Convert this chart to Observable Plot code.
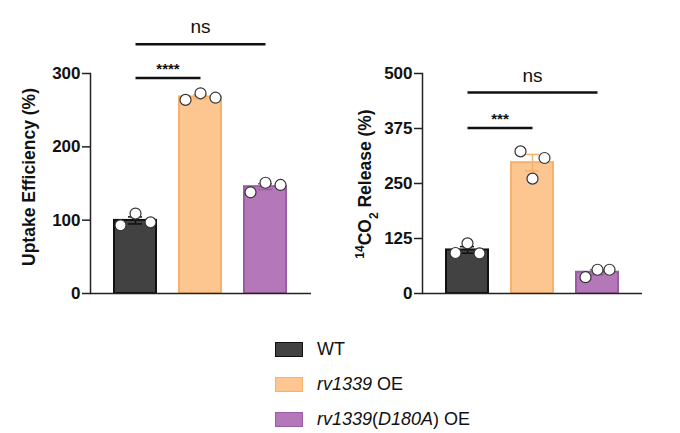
<!DOCTYPE html>
<html>
<head>
<meta charset="utf-8">
<script src="https://cdn.jsdelivr.net/npm/d3@7"></script>
<script src="https://cdn.jsdelivr.net/npm/@observablehq/plot@0.6"></script>
<style>
  body { margin: 0; background: #fff; font-family: "Liberation Sans", Arial, sans-serif; }
  #wrap { width: 680px; height: 433px; position: relative; overflow: hidden; }
  #charts { display: flex; width: 680px; height: 310px; }
  #legend { position: absolute; left: 275px; top: 332px; }
  .row { display: flex; align-items: center; height: 35px; }
  .sw { width: 28px; height: 15px; margin-right: 14px; box-sizing: border-box; border: 1.5px solid; }
  .lab { font-size: 18px; color: #111; }
</style>
</head>
<body>
<div id="wrap">
  <div id="charts"></div>
  <div id="legend"></div>
</div>
<script>
// ---- data ----
const groups = ["WT", "rv1339 OE", "rv1339(D180A) OE"];
const fills = ["#424242", "#FDC58F", "#B477B8"];
const strokes = ["#111111", "#F6B26B", "#9C5BA6"];

const uptakeReps = {
  "WT": [93, 109, 97],
  "rv1339 OE": [264, 273, 267],
  "rv1339(D180A) OE": [138, 151, 148]
};
const releaseReps = {
  "WT": [92, 114, 91],
  "rv1339 OE": [323, 261, 308],
  "rv1339(D180A) OE": [37, 54, 54]
};
const uptakeTicks = [0, 100, 200, 300];
const releaseTicks = [0, 125, 250, 375, 500];

const uptakeSig = [
  {from: "WT", to: "rv1339 OE", y: 294, label: "****"},
  {from: "WT", to: "rv1339(D180A) OE", y: 340, label: "ns"}
];
const releaseSig = [
  {from: "WT", to: "rv1339 OE", y: 376, label: "***"},
  {from: "WT", to: "rv1339(D180A) OE", y: 457, label: "ns"}
];

function summarize(reps) {
  return groups.map(g => {
    const v = reps[g];
    const m = d3.mean(v);
    const sem = d3.deviation(v) / Math.sqrt(v.length);
    return {g, mean: m, lo: m - sem, hi: m + sem};
  });
}
function points(reps) {
  const out = [];
  for (const g of groups) reps[g].forEach((v, i) => out.push({g, v, i}));
  return out;
}
const strokeOf = d => strokes[groups.indexOf(d.g)];

function panel(reps, ticks, sig, opts) {
  const summ = summarize(reps);
  const pts = points(reps);
  const ns = sig.filter(d => d.label === "ns");
  const stars = sig.filter(d => d.label !== "ns");
  const marks = [
    Plot.barY(summ, {x: "g", y: "mean", fill: "g", stroke: strokeOf, strokeWidth: 2}),
    Plot.ruleX(summ, {x: "g", y1: "lo", y2: "hi", stroke: strokeOf, strokeWidth: 1.5}),
    Plot.tickY(summ, {x: "g", y: "hi", stroke: strokeOf, strokeWidth: 1.5, inset: 14}),
    Plot.tickY(summ, {x: "g", y: "lo", stroke: strokeOf, strokeWidth: 1.5, inset: 14}),
    ...[0, 1, 2].map(i => Plot.dot(pts.filter(d => d.i === i), {
      x: "g", y: "v", r: 5.5, fill: "white", stroke: "#333", strokeWidth: 1.2, dx: (i - 1) * opts.spread
    })),
    Plot.ruleY([0], {stroke: "#222", strokeWidth: 1.5}),
    Plot.frame({anchor: "left", stroke: "#222", strokeWidth: 1.5}),
    Plot.axisY({ticks, tickSize: 8, tickPadding: 2, label: null, fontSize: 17, fontWeight: "bold", stroke: "#222", strokeWidth: 1.5}),
    Plot.link(sig, {x1: "from", x2: "to", y1: "y", y2: "y", stroke: "#111", strokeWidth: 2.5}),
    Plot.text(ns, {x: "from", y: "y", text: "label", dy: -17, fontSize: 19, fill: "#111"}),
    Plot.text(stars, {x: "from", y: "y", text: "label", dy: -9, fontSize: 15, fontWeight: "bold", fill: "#111"})
  ];
  const plot = Plot.plot({
    width: 340, height: 310,
    marginLeft: opts.ml, marginRight: opts.mr, marginTop: 73, marginBottom: 17,
    style: {fontFamily: "Liberation Sans, Arial, sans-serif", color: "#111", background: "white", overflow: "visible"},
    x: {domain: groups, padding: 0.35, axis: null},
    y: {domain: [0, ticks[ticks.length - 1]]},
    color: {domain: groups, range: fills},
    marks
  });
  // move significance labels to the middle of their bracket
  const xs = plot.scale("x");
  d3.select(plot).selectAll('g[aria-label="text"] text').each(function() {
    const el = d3.select(this);
    const d = sig.find(s => s.label === el.text());
    if (!d) return;
    const shift = (xs.apply(d.to) - xs.apply(d.from)) / 2;
    const tr = el.attr("transform");
    if (tr && /translate\(/.test(tr)) {
      el.attr("transform", tr.replace(/translate\(\s*([-\d.eE]+)/, (m, x) => `translate(${+x + shift}`));
    } else {
      el.attr("x", (+el.attr("x") || 0) + shift);
    }
  });
  return plot;
}

const left = panel(uptakeReps, uptakeTicks, uptakeSig, {ml: 90, mr: 29, spread: 15});
const right = panel(releaseReps, releaseTicks, releaseSig, {ml: 82, mr: 38, spread: 12});

function addYLabel(plot, x, y, parts) {
  const t = d3.select(plot).append("text")
    .attr("transform", `translate(${x},${y}) rotate(-90)`)
    .attr("text-anchor", "middle")
    .style("font-size", "17.5px").style("font-weight", "bold").style("fill", "#111")
    .style("font-family", "Liberation Sans, Arial, sans-serif");
  parts.forEach(p => {
    const s = t.append("tspan").text(p.t);
    if (p.sup) s.style("font-size", "12px").attr("baseline-shift", "super");
    if (p.sub) s.style("font-size", "12px").attr("baseline-shift", "sub");
  });
}

document.getElementById("charts").append(left, right);
addYLabel(left, 35, 177, [{t: "Uptake Efficiency (%)"}]);
addYLabel(right, 31, 184, [{t: "14", sup: true}, {t: "CO"}, {t: "2", sub: true}, {t: " Release (%)"}]);

// legend
const legendLabels = [
  [{t: "WT"}],
  [{t: "rv1339", i: true}, {t: " OE"}],
  [{t: "rv1339", i: true}, {t: "("}, {t: "D180A", i: true}, {t: ") OE"}]
];
const lg = d3.select("#legend");
groups.forEach((g, k) => {
  const row = lg.append("div").attr("class", "row");
  row.append("div").attr("class", "sw").style("background", fills[k]).style("border-color", strokes[k]);
  const lab = row.append("div").attr("class", "lab");
  legendLabels[k].forEach(p => {
    const s = lab.append("span").text(p.t);
    if (p.i) s.style("font-style", "italic");
  });
});
</script>
</body>
</html>
